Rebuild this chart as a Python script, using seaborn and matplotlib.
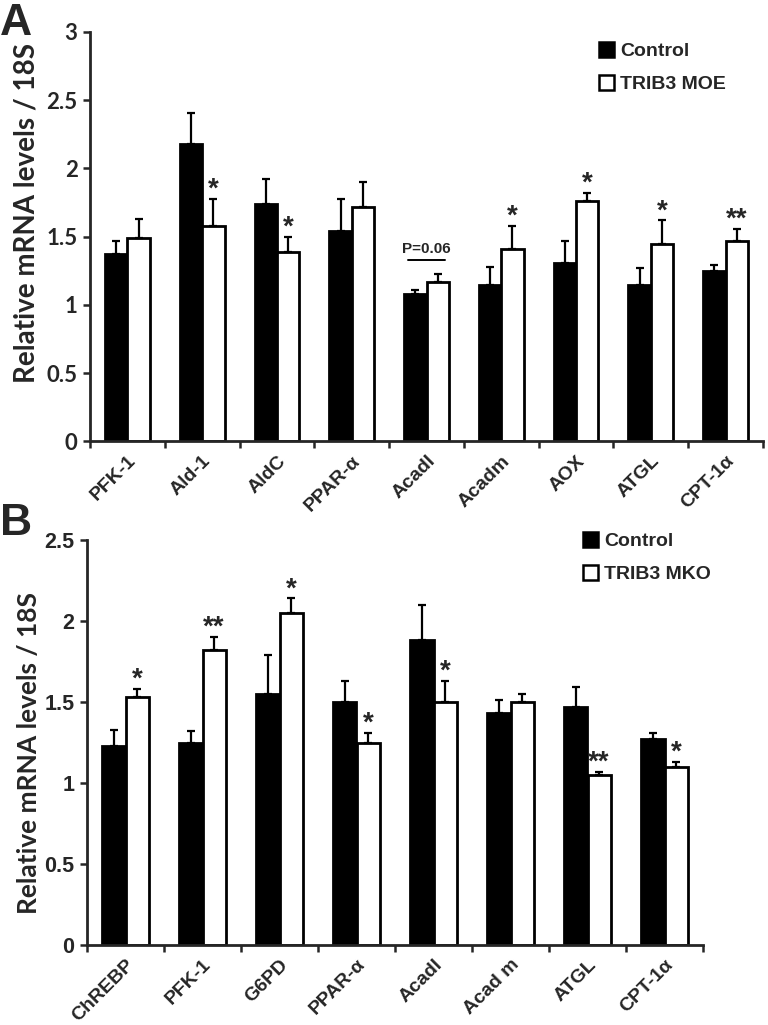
import matplotlib
matplotlib.use("Agg")
import matplotlib.pyplot as plt
import matplotlib.transforms as mtrans
import numpy as np
import pandas as pd
import seaborn as sns

# Panel A data (TRIB3 muscle overexpression)
genes_a = ["PFK-1", "Ald-1", "AldC", "PPAR-α", "Acadl", "Acadm", "AOX", "ATGL", "CPT-1α"]
ctrl_a = [1.37, 2.18, 1.74, 1.54, 1.08, 1.15, 1.31, 1.15, 1.25]
ctrl_a_err = [0.10, 0.23, 0.18, 0.24, 0.03, 0.13, 0.16, 0.12, 0.04]
moe_a = [1.49, 1.58, 1.39, 1.72, 1.17, 1.41, 1.76, 1.45, 1.47]
moe_a_err = [0.14, 0.20, 0.11, 0.18, 0.06, 0.17, 0.06, 0.17, 0.09]
stars_a = ["", "*", "*", "", "", "*", "*", "*", "**"]

# Panel B data (TRIB3 muscle knockout)
genes_b = ["ChREBP", "PFK-1", "G6PD", "PPAR-α", "Acadl", "Acad m", "ATGL", "CPT-1α"]
ctrl_b = [1.23, 1.25, 1.55, 1.50, 1.88, 1.43, 1.47, 1.27]
ctrl_b_err = [0.10, 0.07, 0.24, 0.13, 0.22, 0.08, 0.12, 0.04]
mko_b = [1.53, 1.82, 2.05, 1.25, 1.50, 1.50, 1.05, 1.10]
mko_b_err = [0.05, 0.08, 0.09, 0.06, 0.13, 0.05, 0.02, 0.03]
stars_b = ["*", "**", "*", "*", "*", "", "**", "*"]

sns.set_style("ticks")
plt.rcParams["font.family"] = ["Liberation Sans", "DejaVu Sans"]
plt.rcParams["font.weight"] = "bold"


def draw_panel(ax, genes, ctrl, ctrl_err, trt, trt_err, stars, trt_name, ymax,
               xfs, yfs, lab_fs, lab_y, leg_xy):
    df = pd.DataFrame({
        "gene": genes * 2,
        "value": ctrl + trt,
        "group": ["Control"] * len(genes) + [trt_name] * len(genes),
    })
    sns.barplot(data=df, x="gene", y="value", hue="group", order=genes,
                hue_order=["Control", trt_name], palette=["black", "white"],
                width=0.6, edgecolor="black", linewidth=2.0, errorbar=None,
                ax=ax)
    n = len(genes)
    errs = ctrl_err + trt_err
    vals = ctrl + trt
    bars = [p for p in ax.patches if p.get_height() > 0][:2 * n]
    xs = [p.get_x() + p.get_width() / 2 for p in bars]
    ax.errorbar(xs, vals, yerr=[np.zeros(len(vals)), errs], fmt="none",
                ecolor="black", elinewidth=1.6, capsize=3.2, capthick=1.6, zorder=1)
    for i, s in enumerate(stars):
        if s:
            ax.annotate(s, (xs[n + i], trt[i] + trt_err[i]), xytext=(0, 1.5),
                        textcoords="offset points", ha="center", va="baseline",
                        fontsize=20, fontweight="bold")
    ax.set_xlim(-0.5, n - 0.5)
    ax.set_ylim(0, ymax)
    ticks = np.arange(0, ymax + 0.01, 0.5)
    ax.set_yticks(ticks)
    ax.set_yticklabels([f"{t:g}" for t in ticks], fontsize=yfs[0],
                       fontweight="bold", family=yfs[1])
    ax.set_xticks(range(n))
    ax.set_xticklabels(genes, rotation=45, ha="right", va="top",
                       rotation_mode="anchor", fontsize=xfs, fontweight="bold")
    shift = mtrans.ScaledTranslation(3 / 72, 0, ax.figure.dpi_scale_trans)
    for lbl in ax.get_xticklabels():
        lbl.set_transform(lbl.get_transform() + shift)
    ax.set_xticks(np.arange(-0.5, n), minor=True)
    ax.tick_params(axis="x", which="major", length=0, pad=8)
    ax.tick_params(axis="x", which="minor", length=5, width=1.8)
    ax.tick_params(axis="y", length=5, width=1.8, pad=4)
    ax.set_xlabel("")
    ax.set_ylabel("Relative mRNA levels / 18S", fontsize=lab_fs,
                  fontweight="bold", family="Lato")
    ax.yaxis.set_label_coords(-0.075, lab_y)
    for side in ["top", "right"]:
        ax.spines[side].set_visible(False)
    for side in ["left", "bottom"]:
        ax.spines[side].set_linewidth(2.0)
    leg = ax.legend(loc="upper left", bbox_to_anchor=leg_xy, frameon=False,
                    fontsize=14, handlelength=0.8, handleheight=0.8,
                    handletextpad=0.3, labelspacing=0.75, borderpad=0,
                    borderaxespad=0)
    for t in leg.get_texts():
        t.set_fontweight("bold")
    for h in leg.legend_handles:
        h.set_linewidth(1.8)
        h.set_edgecolor("black")
    return xs


fig = plt.figure(figsize=(7.68, 10.25), dpi=100)
ax_a = fig.add_axes([90 / 768, 1 - 441.5 / 1025, 673 / 768, 409.5 / 1025])
ax_b = fig.add_axes([87 / 768, 1 - 945 / 1025, 616 / 768, 405 / 1025])

xs_a = draw_panel(ax_a, genes_a, ctrl_a, ctrl_a_err, moe_a, moe_a_err, stars_a,
                  "TRIB3 MOE", 3, 14, (16, "Lato"), 20, 0.558, (0.756, 0.975))
# P value bracket for Acadl
i = genes_a.index("Acadl")
y_line = moe_a[i] + moe_a_err[i] + 0.1
ax_a.plot([xs_a[i] - 0.1, xs_a[len(genes_a) + i] + 0.1], [y_line, y_line],
          color="black", lw=1.4)
ax_a.text((xs_a[i] + xs_a[len(genes_a) + i]) / 2, y_line + 0.03, "P=0.06",
          ha="center", va="bottom", fontsize=11, fontweight="bold")

draw_panel(ax_b, genes_b, ctrl_b, ctrl_b_err, mko_b, mko_b_err, stars_b,
           "TRIB3 MKO", 2.5, 14, (15.5, "Liberation Sans"), 19, 0.475,
           (0.805, 1.02))

fig.text(0.0, 0.997, "A", fontsize=32, fontweight="bold", va="top", ha="left")
fig.text(0.0, 1 - 503 / 1025, "B", fontsize=32, fontweight="bold", va="top",
         ha="left")

fig.savefig("out.png", dpi=100)
